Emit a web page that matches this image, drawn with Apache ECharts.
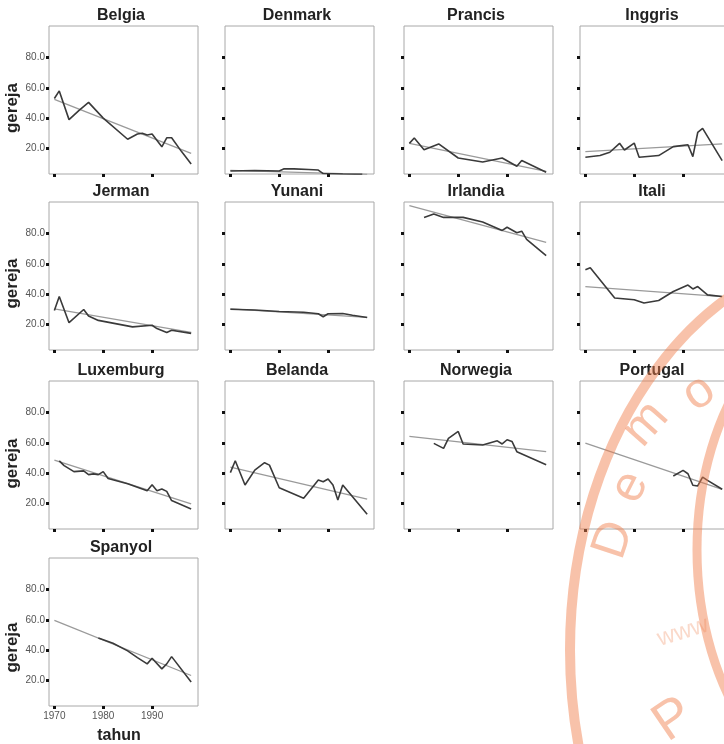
<!DOCTYPE html>
<html>
<head>
<meta charset="utf-8">
<title>Kehadiran gereja 1970–1998</title>
<script src="https://cdn.jsdelivr.net/npm/echarts@6/dist/echarts.min.js"></script>
<style>
  html, body { margin: 0; padding: 0; background: #ffffff; }
  #chart { width: 724px; height: 744px; }
</style>
</head>
<body>
<div id="chart"></div>
<script>
// Panel order, left to right, top to bottom
const countries = ['Belgia', 'Denmark', 'Prancis', 'Inggris',
                   'Jerman', 'Yunani', 'Irlandia', 'Itali',
                   'Luxemburg', 'Belanda', 'Norwegia', 'Portugal',
                   'Spanyol'];

// Axis ticks
const yTicks = [20, 40, 60, 80];
const xTicks = [1970, 1980, 1990];

// Observed attendance per country: [tahun, gereja]
const belgia    = [[1970,53],[1971,58],[1973,39],[1975,45],[1977,50.4],[1980,40],[1985,26],[1987,29.5],[1988,30],[1989,28.8],[1990,29.5],[1992,21],[1993,27],[1994,27],[1996,18],[1998,9.6]];
const denmark   = [[1970,5],[1975,5.3],[1980,5],[1981,6.5],[1983,6.4],[1986,6],[1988,5.6],[1989,3.3],[1993,3],[1997,2.8]];
const prancis   = [[1970,23.3],[1971,26.8],[1973,19.1],[1976,22.9],[1980,13.6],[1985,11],[1989,13.6],[1992,8.1],[1993,11.9],[1998,4.2]];
const inggris   = [[1970,14.1],[1973,15.2],[1975,17.4],[1977,23.3],[1978,18.9],[1980,23.5],[1981,14.1],[1985,15.2],[1988,21.1],[1991,22.4],[1992,14.5],[1993,30.5],[1994,33.2],[1998,11.9]];
const jerman    = [[1970,29.1],[1971,38.4],[1973,21.1],[1976,29.8],[1977,25.5],[1979,22.6],[1986,18.3],[1990,19.4],[1991,17.2],[1993,14.6],[1994,16.1],[1998,14]];
const yunani    = [[1970,30],[1975,29.5],[1980,28.5],[1985,28],[1988,27],[1989,25],[1990,27],[1993,27.2],[1995,26],[1998,24.5]];
const irlandia  = [[1973,90.8],[1975,93],[1977,90.8],[1981,90.8],[1985,87.8],[1989,82.2],[1990,84.3],[1992,80.6],[1993,81.7],[1994,76.3],[1998,65.5]];
const itali     = [[1970,56.2],[1971,57.5],[1976,37.4],[1980,36.3],[1982,34.1],[1985,35.8],[1988,41.7],[1991,46],[1992,43.4],[1993,45],[1995,39.5],[1998,38.4]];
const luxemburg = [[1971,48.1],[1972,45],[1974,41],[1976,41.5],[1977,39],[1978,39.5],[1979,39],[1980,41],[1981,36.5],[1985,33],[1989,28.4],[1990,32.3],[1991,28.4],[1992,29.5],[1993,27.9],[1994,21.8],[1998,16.3]];
const belanda   = [[1970,40.3],[1971,48.2],[1973,32.1],[1975,42],[1977,46.9],[1978,45.3],[1980,30.3],[1985,23.3],[1988,35.4],[1989,34.3],[1990,36.1],[1991,32.1],[1992,22.2],[1993,32.1],[1998,12.7]];
const norwegia  = [[1975,59.7],[1977,56.4],[1978,63],[1980,67.6],[1981,59.3],[1985,58.6],[1988,61.4],[1989,59.3],[1990,62.1],[1991,61],[1992,54.2],[1998,45.5]];
const portugal  = [[1988,38.1],[1990,41.8],[1991,39.6],[1992,32],[1993,31.5],[1994,37.4],[1995,35.2],[1998,29.3]];
const spanyol   = [[1979,48],[1982,44.5],[1985,39.5],[1987,35],[1989,30.9],[1990,34.6],[1992,27.6],[1993,30.9],[1994,35.7],[1998,18.9]];

// Fitted linear trend per country (start and end of the fitted line)
const trendBelgia    = [[1970,52.4],[1998,16.6]];
const trendDenmark   = [[1970,5.4],[1998,2.8]];
const trendPrancis   = [[1970,23.3],[1998,4.8]];
const trendInggris   = [[1970,17.8],[1998,22.9]];
const trendJerman    = [[1970,30.2],[1998,14.6]];
const trendYunani    = [[1970,30.2],[1998,24.6]];
const trendIrlandia  = [[1970,98.6],[1998,74.2]];
const trendItali     = [[1970,44.9],[1998,38.4]];
const trendLuxemburg = [[1970,48.6],[1998,19.6]];
const trendBelanda   = [[1970,44],[1998,22.8]];
const trendNorwegia  = [[1970,64.3],[1998,54.2]];
const trendPortugal  = [[1970,59.9],[1998,29.3]];
const trendSpanyol   = [[1970,59.7],[1998,23.2]];

const observed = [belgia, denmark, prancis, inggris, jerman, yunani, irlandia, itali,
                  luxemburg, belanda, norwegia, portugal, spanyol];
const trends = [trendBelgia, trendDenmark, trendPrancis, trendInggris, trendJerman, trendYunani,
                trendIrlandia, trendItali, trendLuxemburg, trendBelanda, trendNorwegia,
                trendPortugal, trendSpanyol];

// Panel layout
const colLeft = [49, 225, 404, 580];
const rowTop = [26, 202, 381, 558];
const plotW = 149, plotH = 148;
const labelRowY = [108, 283.5, 463.5, 647.5];
const FONT = '"Liberation Sans", Arial, Helvetica, sans-serif';

const grids = [], xAxes = [], yAxes = [], series = [], graphics = [];

countries.forEach((name, i) => {
  const r = Math.floor(i / 4), c = i % 4;
  const firstCol = c === 0;
  const bottomPanel = i === countries.length - 1;

  grids.push({
    left: colLeft[c], top: rowTop[r], width: plotW, height: plotH,
    show: true, borderColor: '#a8a8a8', borderWidth: 1, backgroundColor: '#ffffff',
    containLabel: false, outerBoundsMode: 'none'
  });

  xAxes.push({
    type: 'value', gridIndex: i, min: 1968.9, max: 1999.4,
    splitLine: { show: false }, axisLine: { show: false },
    axisTick: { show: true, customValues: xTicks, length: 3, lineStyle: { color: '#111', width: 3 } },
    axisLabel: { show: bottomPanel, customValues: xTicks, color: '#555', fontSize: 10,
                 fontFamily: FONT, margin: 5, formatter: v => String(v) }
  });

  yAxes.push({
    type: 'value', gridIndex: i, min: 3, max: 101,
    splitLine: { show: false }, axisLine: { show: false },
    axisTick: { show: true, customValues: yTicks, length: 3, lineStyle: { color: '#111', width: 3 } },
    axisLabel: { show: firstCol, customValues: yTicks, color: '#555', fontSize: 10,
                 fontFamily: FONT, margin: 4, formatter: v => v.toFixed(1) }
  });

  series.push({
    name: name + ' tren', type: 'line', xAxisIndex: i, yAxisIndex: i,
    data: trends[i], symbol: 'none', silent: true, animation: false,
    lineStyle: { color: '#9a9a9a', width: 1.3 }, z: 2
  });
  series.push({
    name: name, type: 'line', xAxisIndex: i, yAxisIndex: i,
    data: observed[i], symbol: 'none', silent: true, animation: false,
    lineStyle: { color: '#3a3a3a', width: 1.6 }, z: 3
  });

  // Panel heading
  graphics.push({
    type: 'text', x: colLeft[c] + plotW / 2 - 2.5, y: rowTop[r] - 10.5,
    style: { text: name, font: 'bold 16px ' + FONT, fill: '#222', align: 'center', verticalAlign: 'middle' }
  });

  // Vertical axis title on the first column
  if (firstCol) {
    graphics.push({
      type: 'text', x: 12, y: labelRowY[r], rotation: Math.PI / 2,
      style: { text: 'gereja', font: 'bold 17px ' + FONT, fill: '#222', align: 'center', verticalAlign: 'middle' }
    });
  }
});

// Horizontal axis title under the last panel
graphics.push({
  type: 'text', x: 119, y: 736,
  style: { text: 'tahun', font: 'bold 16px ' + FONT, fill: '#222', align: 'center', verticalAlign: 'middle' }
});

// Faint round stamp over the lower right corner
const stampInk = 'rgba(240,128,78,0.48)';
const stampInkLight = 'rgba(240,128,78,0.3)';
graphics.push(
  { type: 'ellipse', z: 100, silent: true, shape: { cx: 870, cy: 650, rx: 300, ry: 400 },
    style: { fill: 'none', stroke: stampInk, lineWidth: 10 } },
  { type: 'ellipse', z: 100, silent: true, shape: { cx: 880, cy: 550, rx: 183, ry: 260 },
    style: { fill: 'none', stroke: stampInk, lineWidth: 9 } },
  { type: 'text', z: 100, silent: true, x: 614, y: 540, rotation: 1.25,
    style: { text: 'D', font: '50px ' + FONT, fill: stampInk, align: 'center', verticalAlign: 'middle' } },
  { type: 'text', z: 100, silent: true, x: 630, y: 487, rotation: 1.1,
    style: { text: 'e', font: '50px ' + FONT, fill: stampInk, align: 'center', verticalAlign: 'middle' } },
  { type: 'text', z: 100, silent: true, x: 646, y: 424, rotation: 0.85,
    style: { text: 'm', font: '50px ' + FONT, fill: stampInk, align: 'center', verticalAlign: 'middle' } },
  { type: 'text', z: 100, silent: true, x: 699, y: 393, rotation: 0.6,
    style: { text: 'o', font: '50px ' + FONT, fill: stampInk, align: 'center', verticalAlign: 'middle' } },
  { type: 'text', z: 100, silent: true, x: 683, y: 632, rotation: 0.3,
    style: { text: 'www', font: '24px ' + FONT, fill: stampInkLight, align: 'center', verticalAlign: 'middle' } },
  { type: 'text', z: 100, silent: true, x: 674, y: 720, rotation: 0.6,
    style: { text: 'P', font: '54px ' + FONT, fill: stampInk, align: 'center', verticalAlign: 'middle' } }
);

const chart = echarts.init(document.getElementById('chart'), null, { renderer: 'canvas' });
chart.setOption({
  backgroundColor: '#ffffff',
  animation: false,
  grid: grids,
  xAxis: xAxes,
  yAxis: yAxes,
  series: series,
  graphic: graphics
});
</script>
</body>
</html>
